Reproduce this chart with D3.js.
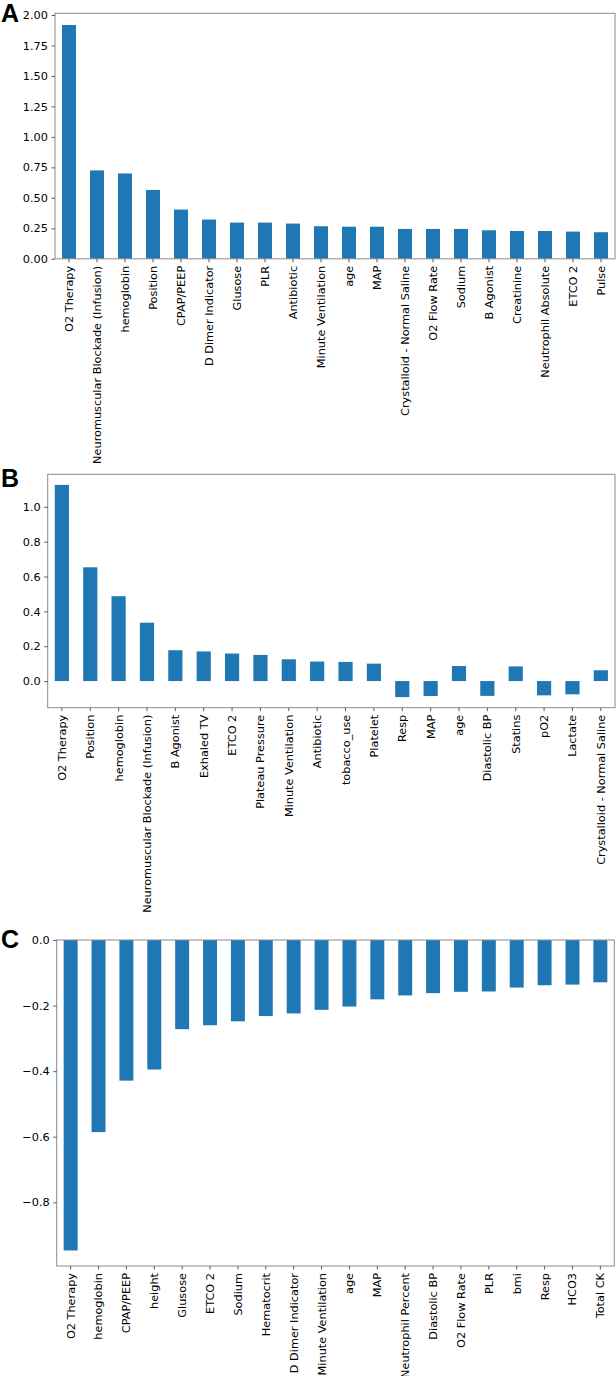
<!DOCTYPE html>
<html>
<head>
<meta charset="utf-8">
<script src="https://cdn.jsdelivr.net/npm/d3@7"></script>
<style>
  body { margin: 0; background: #fff; }
  svg { display: block; }
</style>
</head>
<body>
<script>
// panel A
var aNames = ["O2 Therapy", "Neuromuscular Blockade (Infusion)", "hemoglobin", "Position", "CPAP/PEEP",
  "D Dimer Indicator", "Glusose", "PLR", "Antibiotic", "Minute Ventilation", "age", "MAP",
  "Crystalloid - Normal Saline", "O2 Flow Rate", "Sodium", "B Agonist", "Creatinine",
  "Neutrophil Absolute", "ETCO 2", "Pulse"]
var aValues = [1.918, 0.725, 0.700, 0.565, 0.404, 0.322, 0.297, 0.297, 0.289, 0.267, 0.263, 0.263,
  0.245, 0.245, 0.245, 0.234, 0.228, 0.228, 0.223, 0.218]
var aTicks = [0, 0.25, 0.5, 0.75, 1, 1.25, 1.5, 1.75, 2]

// panel B
var bNames = ["O2 Therapy", "Position", "hemoglobin", "Neuromuscular Blockade (Infusion)", "B Agonist",
  "Exhaled TV", "ETCO 2", "Plateau Pressure", "Minute Ventilation", "Antibiotic", "tobacco_use",
  "Platelet", "Resp", "MAP", "age", "Diastolic BP", "Statins", "pO2", "Lactate",
  "Crystalloid - Normal Saline"]
var bValues = [1.126, 0.653, 0.487, 0.335, 0.177, 0.170, 0.158, 0.150, 0.125, 0.112, 0.110, 0.100,
  -0.092, -0.086, 0.086, -0.085, 0.084, -0.082, -0.076, 0.062]
var bTicks = [0, 0.2, 0.4, 0.6, 0.8, 1.0]

// panel C
var cNames = ["O2 Therapy", "hemoglobin", "CPAP/PEEP", "height", "Glusose", "ETCO 2", "Sodium",
  "Hematocrit", "D Dimer Indicator", "Minute Ventilation", "age", "MAP", "Neutrophil Percent",
  "Diastolic BP", "O2 Flow Rate", "PLR", "bmi", "Resp", "HCO3", "Total CK"]
var cValues = [-0.947, -0.586, -0.429, -0.395, -0.272, -0.260, -0.248, -0.232, -0.224, -0.213,
  -0.203, -0.181, -0.169, -0.162, -0.158, -0.157, -0.145, -0.138, -0.136, -0.129]
var cTicks = [-0.8, -0.6, -0.4, -0.2, 0]

var width = 616
var height = 1376
var barColor = "#1f77b4"
var font = "'DejaVu Sans', sans-serif"
var fontSize = "11.3px"

var svg = d3.select("body").append("svg")
  .attr("width", width)
  .attr("height", height)

// matplotlib style autoscale: 5% margin, but 0 stays sticky for bars
function limits(values) {
  var lo = Math.min(0, d3.min(values)), hi = Math.max(0, d3.max(values))
  var m = (hi - lo) * 0.05
  return [d3.min(values) < 0 ? lo - m : 0, d3.max(values) > 0 ? hi + m : 0]
}

function styleAxis(ax) {
  ax.attr("font-family", null).attr("font-size", null)
  ax.select(".domain").remove()
  ax.selectAll(".tick line").style("stroke", "#333").style("stroke-width", 0.8)
  ax.selectAll(".tick text")
    .style("font-family", font)
    .style("font-size", fontSize)
    .style("fill", "#000")
}

function panel(names, values, ticks, fmt, box, letter) {
  var g = svg.append("g")
  var x = d3.scaleBand().domain(names)
    .range([box.left, box.right])
    .paddingInner(0.5).paddingOuter(0.25)
  var y = d3.scaleLinear().domain(limits(values)).range([box.bottom, box.top])

  g.selectAll(".bar")
    .data(values)
    .enter().append("rect")
    .attr("class", "bar")
    .attr("x", function (d, i) { return x(names[i]) })
    .attr("width", x.bandwidth())
    .attr("y", function (d) { return y(Math.max(0, d)) })
    .attr("height", function (d) { return Math.abs(y(d) - y(0)) })
    .style("fill", barColor)

  g.append("rect")
    .attr("x", box.left).attr("y", box.top)
    .attr("width", box.right - box.left)
    .attr("height", box.bottom - box.top)
    .style("fill", "none")
    .style("stroke", "#8a8a8a")
    .style("stroke-width", 1)

  var yAxis = g.append("g")
    .attr("transform", "translate(" + box.left + ",0)")
    .call(d3.axisLeft(y).tickValues(ticks).tickFormat(fmt).tickSize(3.5).tickPadding(3.5))
  styleAxis(yAxis)

  var xAxis = g.append("g")
    .attr("transform", "translate(0," + box.bottom + ")")
    .call(d3.axisBottom(x).tickSize(3.5).tickPadding(3.5))
  styleAxis(xAxis)
  xAxis.selectAll(".tick text")
    .attr("transform", "rotate(-90)")
    .attr("x", -7)
    .attr("y", 0)
    .attr("dy", "0.35em")
    .style("text-anchor", "end")

  svg.append("text")
    .attr("x", 1)
    .attr("y", letter.y)
    .style("font-family", "'Liberation Sans', Arial, sans-serif")
    .style("font-weight", "bold")
    .style("font-size", "25px")
    .text(letter.text)
}

var minus = function (s) { return s.replace("-", "\u2212") }

panel(aNames, aValues, aTicks, function (d) { return d3.format(".2f")(d) },
  { left: 55, right: 615, top: 13.3, bottom: 258.8 }, { text: "A", y: 22 })
panel(bNames, bValues, bTicks, function (d) { return minus(d3.format(".1f")(d)) },
  { left: 47.7, right: 615, top: 474.3, bottom: 707.7 }, { text: "B", y: 487 })
panel(cNames, cValues, cTicks, function (d) { return minus(d3.format(".1f")(d)) },
  { left: 56.7, right: 614.3, top: 940, bottom: 1266 }, { text: "C", y: 948 })
</script>
</body>
</html>
